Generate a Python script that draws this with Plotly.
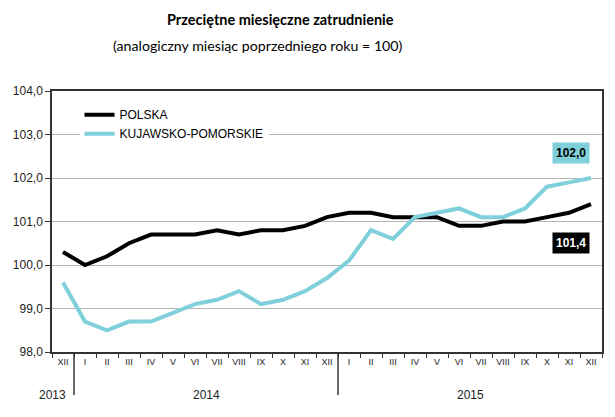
import plotly.graph_objects as go

months = ["XII"] + ["I", "II", "III", "IV", "V", "VI", "VII", "VIII", "IX", "X", "XI", "XII"] * 2
year_labels = ["2013", "2014", "2015"]
year_first = [0, 1, 13]
year_last = [0, 12, 24]

polska = [100.3, 100.0, 100.2, 100.5, 100.7, 100.7, 100.7, 100.8, 100.7, 100.8, 100.8, 100.9, 101.1,
          101.2, 101.2, 101.1, 101.1, 101.1, 100.9, 100.9, 101.0, 101.0, 101.1, 101.2, 101.4]
kujawsko = [99.6, 98.7, 98.5, 98.7, 98.7, 98.9, 99.1, 99.2, 99.4, 99.1, 99.2, 99.4, 99.7,
            100.1, 100.8, 100.6, 101.1, 101.2, 101.3, 101.1, 101.1, 101.3, 101.8, 101.9, 102.0]

BLACK = "#000000"
CYAN = "#7FD0DA"
AX = "#333333"
FONT = "Liberation Sans, Arial, sans-serif"

x = list(range(len(months)))

fig = go.Figure()
fig.add_trace(go.Scatter(x=x, y=polska, mode="lines", name="POLSKA",
                         line=dict(color=BLACK, width=4)))
fig.add_trace(go.Scatter(x=x, y=kujawsko, mode="lines", name="KUJAWSKO-POMORSKIE",
                         line=dict(color=CYAN, width=4)))

fig.update_layout(
    width=615, height=417,
    margin=dict(l=52, r=13, t=91, b=65, autoexpand=False),
    paper_bgcolor="white", plot_bgcolor="white",
    separators=", ",
    font=dict(family=FONT, color="black"),
    showlegend=True,
    legend=dict(x=0.05, y=0.965, xanchor="left", yanchor="top", bgcolor="white",
                font=dict(size=12, family=FONT), tracegroupgap=0, itemwidth=30),
    xaxis=dict(range=[-0.5, len(months) - 0.5], tickvals=x, ticktext=months, tickangle=0,
               ticks="", showline=True, linecolor=AX, linewidth=1.5, mirror=True, automargin=False,
               tickfont=dict(size=9, color="#222", family=FONT), showgrid=False, zeroline=False,
               minor=dict(tickvals=[v - 0.5 for v in x] + [x[-1] + 0.5], ticks="outside",
                          ticklen=4, tickcolor=AX, showgrid=False)),
    yaxis=dict(range=[98, 104], dtick=1, tickformat=".1f", showline=True, linecolor=AX,
               linewidth=1.5, mirror=True, ticks="outside", ticklen=5, tickcolor=AX, automargin=False,
               showgrid=True, gridcolor="#b5b5b5", gridwidth=1,
               tickfont=dict(size=12, color="#222", family=FONT), zeroline=False),
)

for lab, a, b in zip(year_labels, year_first, year_last):
    fig.add_annotation(text=lab, x=(a + b) / 2 - (0.5 if lab == "2013" else 0), y=-0.165,
                       xref="x", yref="paper", showarrow=False, yanchor="middle",
                       font=dict(size=12, color="#222", family=FONT))
for a in year_first[1:]:
    fig.add_shape(type="line", x0=a - 0.5, x1=a - 0.5, y0=0, y1=-0.165, xref="x", yref="paper",
                  line=dict(color=AX, width=1.5))

fig.add_annotation(text="<b>Przeciętne miesięczne zatrudnienie</b>",
                   x=(280 - 52) / 550, y=1 + (91 - 20) / 261, xref="paper", yref="paper",
                   showarrow=False, xanchor="center", yanchor="middle",
                   font=dict(family="Lato, sans-serif", size=14.5, color="black"))
fig.add_annotation(text="(analogiczny miesiąc poprzedniego roku = 100)",
                   x=(258 - 52) / 550, y=1 + (91 - 46) / 261, xref="paper", yref="paper",
                   showarrow=False, xanchor="center", yanchor="middle",
                   font=dict(family="Lato, sans-serif", size=14.2, color="black"))
fig.add_annotation(text="<b>102,0</b>", x=23.1, y=102.57, xref="x", yref="y",
                   showarrow=False, bgcolor=CYAN, borderpad=3,
                   font=dict(size=12, color="black", family=FONT))
fig.add_annotation(text="<b>101,4</b>", x=23.1, y=100.5, xref="x", yref="y",
                   showarrow=False, bgcolor=BLACK, borderpad=3,
                   font=dict(size=12, color="white", family=FONT))

fig.write_html("out.html", config={"displayModeBar": False},
               post_script="document.body.style.margin='0';document.body.style.overflow='hidden';")
